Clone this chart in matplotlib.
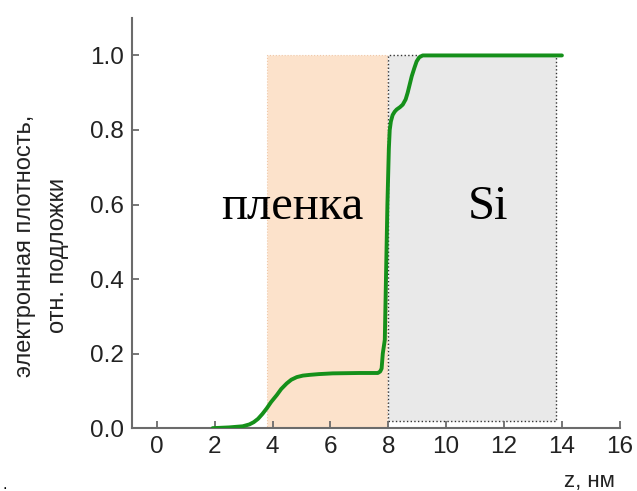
import matplotlib.pyplot as plt
from matplotlib.patches import Rectangle

plt.rcParams['font.family'] = ['Liberation Sans', 'DejaVu Sans']

# density profile
z = [1.93, 2.5, 2.97, 3.2, 3.35, 3.5, 3.65, 3.8, 3.95, 4.15, 4.3, 4.49, 4.65, 4.84,
     5.05, 5.29, 5.6, 6.08, 7.0, 7.64, 7.72, 7.77, 7.81, 7.88, 7.92, 7.97, 8.02, 8.05,
     8.09, 8.15, 8.22, 8.29, 8.4, 8.5, 8.6, 8.67, 8.74, 8.81, 8.9, 8.98, 9.07, 9.19,
     9.4, 10.0, 12.0, 14.0]
rho = [0.0, 0.002, 0.005, 0.01, 0.016, 0.025, 0.038, 0.053, 0.07, 0.089, 0.105, 0.12,
       0.13, 0.137, 0.141, 0.143, 0.145, 0.147, 0.148, 0.148, 0.152, 0.16, 0.2, 0.237,
       0.4, 0.6, 0.75, 0.80, 0.823, 0.84, 0.849, 0.855, 0.861, 0.868, 0.882, 0.9, 0.922,
       0.944, 0.966, 0.984, 0.995, 1.0, 1.0, 1.0, 1.0, 1.0]

film = (3.8, 7.95)   # пленка
si = (8.0, 13.8)     # Si
top = 1.0
bot = 0.02

fig = plt.figure(figsize=(6.37, 4.91), dpi=100)
ax = fig.add_axes([0.207, 0.128, 0.766, 0.835])

ax.add_patch(Rectangle((film[0], 0), film[1] - film[0], top, facecolor='#fce2cb',
                       edgecolor='#f0c8a8', lw=0.8, ls=':', zorder=1))
ax.add_patch(Rectangle((si[0], bot), si[1] - si[0], top - bot, facecolor='#e9e9e9',
                       edgecolor='#333333', lw=1.0, ls=':', zorder=1))

ax.plot(z, rho, color='#15901a', lw=2.8, zorder=3, solid_capstyle='round',
        solid_joinstyle='round')

ax.text(4.7, 0.594, 'пленка', fontsize=35, family='Liberation Serif',
        ha='center', va='center', zorder=4)
ax.text(11.44, 0.594, 'Si', fontsize=35, family='Liberation Serif',
        ha='center', va='center', zorder=4)

ax.set_xlim(-0.86, 16)
ax.set_ylim(0, 1.1)
ax.set_xticks(range(0, 17, 2))
ax.set_yticks([0.0, 0.2, 0.4, 0.6, 0.8, 1.0])
ax.set_yticklabels(['0.0', '0.2', '0.4', '0.6', '0.8', '1.0'])
for s in ['top', 'right']:
    ax.spines[s].set_visible(False)
for s in ['left', 'bottom']:
    ax.spines[s].set_color('#6b6b6b')
    ax.spines[s].set_linewidth(1.5)
ax.tick_params(direction='in', length=5, width=1.3, color='#6b6b6b',
               labelsize=17.5, labelcolor='#222222', pad=6)

fig.text(0.039, 0.5, 'электронная плотность,', rotation=90, fontsize=17,
         color='#222222', ha='center', va='center')
fig.text(0.091, 0.48, 'отн. подложки', rotation=90, fontsize=17,
         color='#222222', ha='center', va='center')
fig.text(0.966, 0.008, 'z, нм', fontsize=16, color='#222222', ha='right', va='baseline')
fig.text(0.004, 0.005, '.', fontsize=12, color='black')

fig.savefig('out.png', dpi=100)
